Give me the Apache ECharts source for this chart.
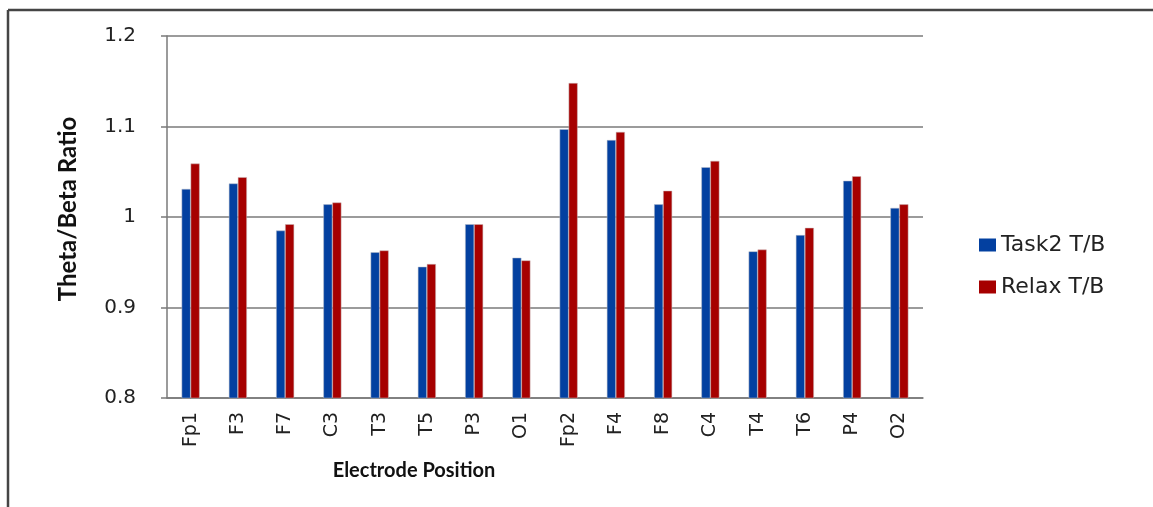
<!DOCTYPE html>
<html>
<head>
<meta charset="utf-8">
<style>
  html, body { margin: 0; padding: 0; background: #ffffff; }
  #chart { width: 1153px; height: 507px; }
</style>
<script src="https://cdn.jsdelivr.net/npm/echarts@6/dist/echarts.min.js"></script>
</head>
<body>
<div id="chart"></div>
<script>
// Electrode positions (x categories)
const electrodes = ['Fp1', 'F3', 'F7', 'C3', 'T3', 'T5', 'P3', 'O1',
                    'Fp2', 'F4', 'F8', 'C4', 'T4', 'T6', 'P4', 'O2'];

// Theta/Beta ratio during task 2
const task2TB = [1.031, 1.037, 0.985, 1.014, 0.961, 0.945, 0.992, 0.955,
                 1.097, 1.085, 1.014, 1.055, 0.962, 0.980, 1.040, 1.010];

// Theta/Beta ratio at rest
const relaxTB = [1.059, 1.044, 0.992, 1.016, 0.963, 0.948, 0.992, 0.952,
                 1.148, 1.094, 1.029, 1.062, 0.964, 0.988, 1.045, 1.014];

const seriesNames = ['Task2 T/B', 'Relax T/B'];
const yTicks = { min: 0.8, max: 1.2, step: 0.1 };

const chart = echarts.init(document.getElementById('chart'), null, { renderer: 'canvas' });

const gridColor = '#7a7a7a';
const tickFont = 'DejaVu Sans, Verdana, sans-serif';
const titleFont = 'Lato, Calibri, sans-serif';

chart.setOption({
  animation: false,
  backgroundColor: '#ffffff',
  grid: { left: 167, right: 230, top: 36, bottom: 109, containLabel: false },
  legend: {
    orient: 'vertical',
    left: 974,
    top: 229,
    itemWidth: 17,
    itemHeight: 13,
    itemGap: 20,
    icon: 'rect',
    data: seriesNames,
    itemStyle: { borderWidth: 0 },
    textStyle: { fontFamily: tickFont, fontSize: 22, color: '#222' }
  },
  xAxis: {
    type: 'category',
    data: electrodes,
    axisLine: { show: true, lineStyle: { color: gridColor, width: 1.5 } },
    axisTick: { show: false },
    axisLabel: {
      rotate: 90,
      margin: 14,
      fontFamily: tickFont,
      fontSize: 19,
      color: '#222'
    },
    splitLine: { show: false }
  },
  yAxis: {
    type: 'value',
    min: yTicks.min,
    max: yTicks.max,
    interval: yTicks.step,
    axisLine: { show: true, lineStyle: { color: gridColor, width: 1.5 } },
    axisTick: { show: true, inside: false, length: 6, lineStyle: { color: gridColor, width: 1.5 } },
    axisLabel: {
      margin: 31,
      fontFamily: tickFont,
      fontSize: 20,
      color: '#222',
      formatter: v => String(Math.round(v * 10) / 10)
    },
    splitLine: { show: true, lineStyle: { color: gridColor, width: 1.5 } }
  },
  series: [
    {
      name: seriesNames[0],
      type: 'bar',
      data: task2TB,
      barWidth: 9,
      barGap: '0%',
      itemStyle: { color: '#0340A0', borderColor: '#b9bcc8', borderWidth: 0.5 }
    },
    {
      name: seriesNames[1],
      type: 'bar',
      data: relaxTB,
      barWidth: 9,
      barGap: '0%',
      itemStyle: { color: '#A60000', borderColor: '#c8b9b9', borderWidth: 0.5 }
    }
  ],
  graphic: [
    // outer frame (top and left edges)
    { type: 'line', shape: { x1: 8, y1: 10, x2: 1153, y2: 10 }, style: { stroke: '#454545', lineWidth: 2.5 } },
    { type: 'line', shape: { x1: 8, y1: 10, x2: 8, y2: 507 }, style: { stroke: '#454545', lineWidth: 2.5 } },
    // axis titles
    {
      type: 'text', x: 68, y: 209, rotation: Math.PI / 2,
      style: {
        text: 'Theta/Beta Ratio', fontFamily: titleFont, fontWeight: 'bold', fontSize: 24,
        fill: '#111', align: 'center', verticalAlign: 'middle'
      }
    },
    {
      type: 'text', x: 414, y: 471,
      style: {
        text: 'Electrode Position', fontFamily: titleFont, fontWeight: 'bold', fontSize: 20,
        fill: '#111', align: 'center', verticalAlign: 'middle'
      }
    }
  ]
});
</script>
</body>
</html>
